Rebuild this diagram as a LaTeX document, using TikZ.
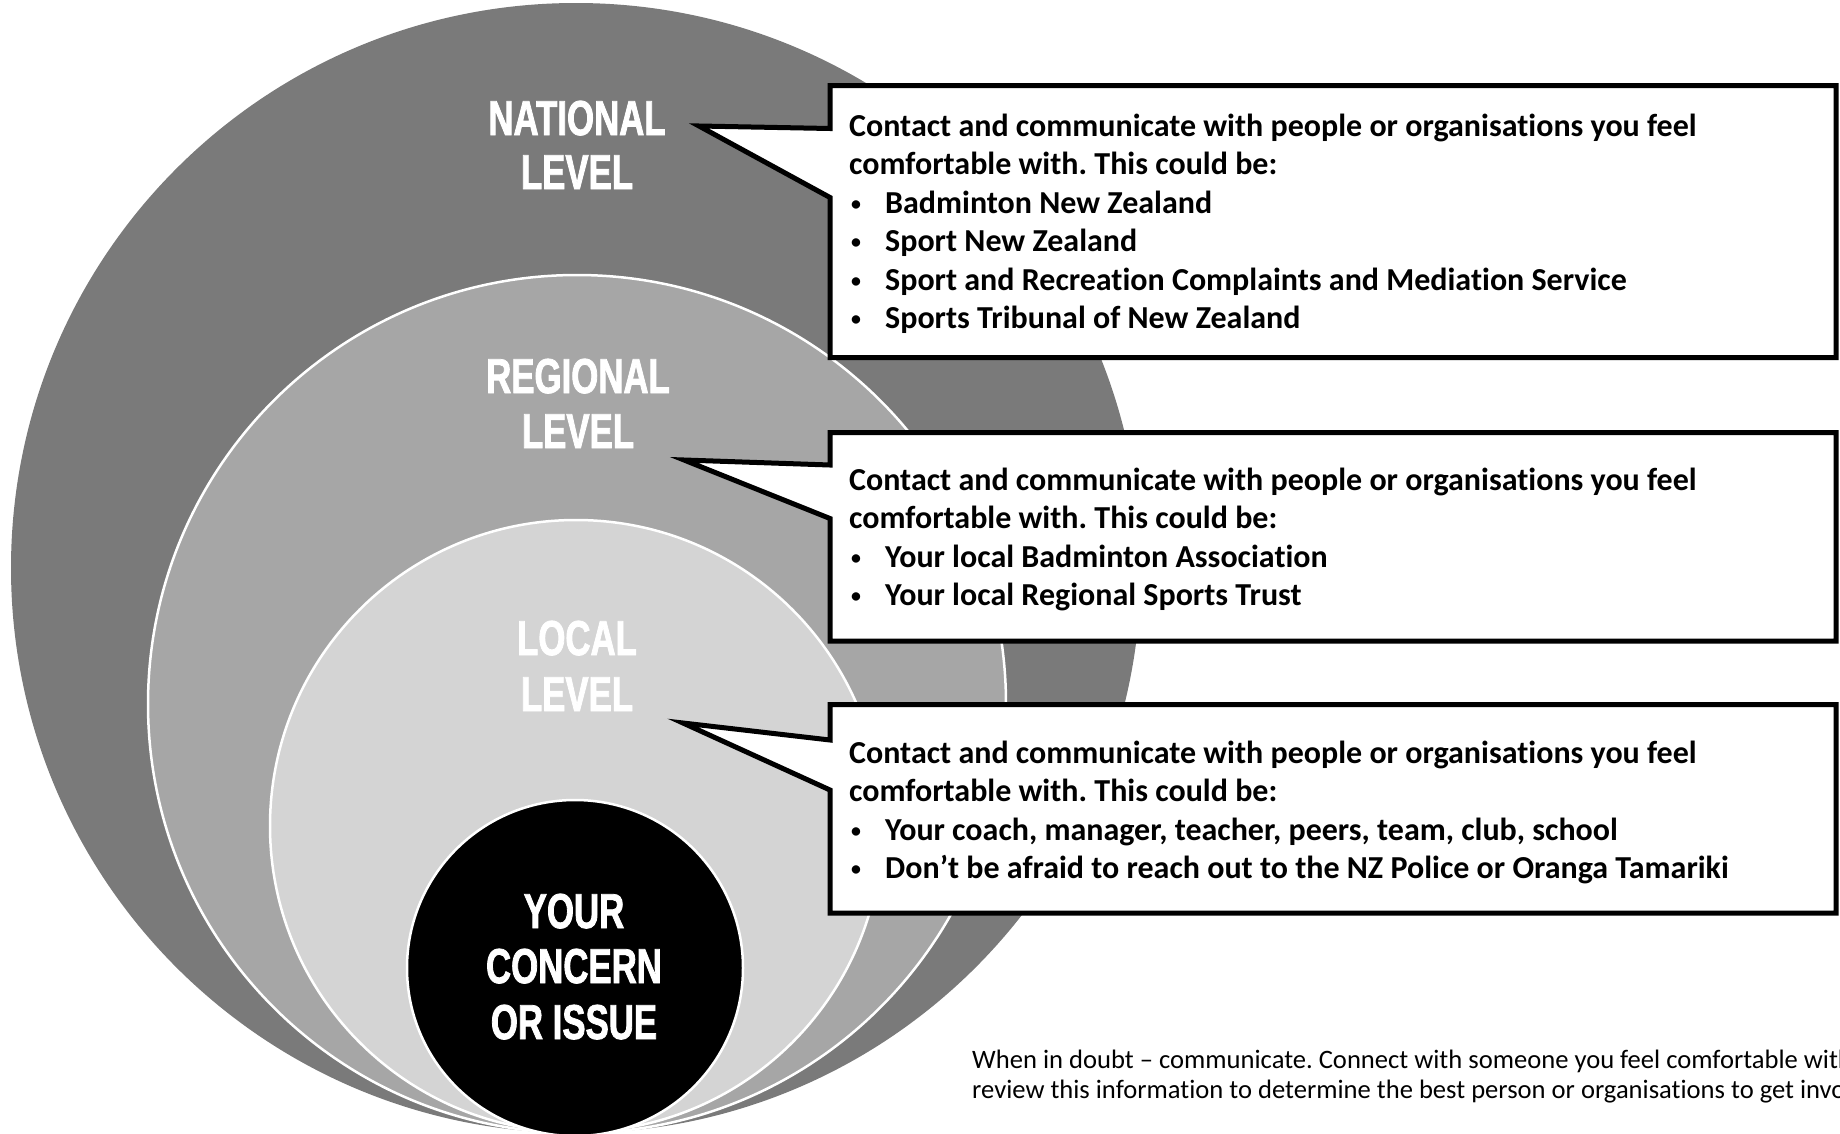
\documentclass[tikz,border=0pt]{standalone}
\usepackage{fontspec}
\setmainfont{Carlito}[Ligatures=NoCommon]
\newfontfamily\lvlfont{Liberation Sans}[FakeStretch=0.71, FakeBold=1.6]
\definecolor{ringNational}{RGB}{122,122,122}
\definecolor{ringRegional}{RGB}{166,166,166}
\definecolor{ringLocal}{RGB}{212,212,212}
\newcommand{\listdot}{\raisebox{3pt}{\scalebox{0.62}{•}}}
\begin{document}
\frenchspacing
\begin{tikzpicture}[x=1pt,y=-1pt,
  ring/.style={circle, inner sep=0pt, outer sep=0pt},
  callout/.style={fill=white, draw=black, line width=5pt, miter limit=10},
  lvl/.style={anchor=base, inner sep=0pt, text=white,
    font=\lvlfont\bfseries\fontsize{49}{49}\selectfont},
  body/.style={anchor=base west, inner sep=0pt,
    font=\bfseries\fontsize{32}{32}\selectfont},
  note/.style={anchor=base west, inner sep=0pt,
    font=\fontsize{26.6}{26.6}\selectfont}]
\useasboundingbox (0,0) rectangle (1840,1133);
\begin{scope}
\clip (0,0) rectangle (1840,1133);

% nested levels, all touching at the bottom
\node[ring, fill=ringNational, minimum size=1130pt] (national) at (576,568) {};
\node[ring, fill=ringRegional, draw=white, line width=2.5pt, minimum size=858pt] (regional) at (577,704) {};
\node[ring, fill=ringLocal, draw=white, line width=2.5pt, minimum size=612pt] (local) at (576,826) {};
\node[ring, fill=black, draw=white, line width=2.5pt, minimum size=336pt] (concern) at (575,968) {};

% level titles
\node[lvl] (natA) at (577,135) {NATIONAL};
\node[lvl] (natB) at (577,189) {LEVEL};
\node[lvl] (regA) at (578,393) {REGIONAL};
\node[lvl] (regB) at (578,448) {LEVEL};
\node[lvl] (locA) at (577,655) {LOCAL};
\node[lvl] (locB) at (577,711) {LEVEL};
\node[lvl] (conA) at (574,928) {YOUR};
\node[lvl] (conB) at (574,983) {CONCERN};
\node[lvl] (conC) at (574,1039) {OR ISSUE};

% speech-bubble callouts
\coordinate (tipN) at (699,126);
\coordinate (tipR) at (684,460);
\coordinate (tipL) at (683,723);
\draw[callout] (830,85.5) -- (1836,85.5) -- (1836,357.5) -- (830,357.5)
  -- (830,197.5) -- (tipN) -- (830,128.5) -- cycle;
\draw[callout] (830,432.5) -- (1836,432.5) -- (1836,641) -- (830,641)
  -- (830,518.5) -- (tipR) -- (830,465) -- cycle;
\draw[callout] (830,704.5) -- (1836,704.5) -- (1836,913) -- (830,913)
  -- (830,790) -- (tipL) -- (830,740) -- cycle;

% national callout text
\node[body] (n1) at (849,136) {Contact and communicate with people or organisations you feel};
\node[body] (n2) at (849,174.5) {comfortable with. This could be:};
\node[body] (n3b) at (851,213) {\listdot};
\node[body] (n3) at (885,213) {Badminton New Zealand};
\node[body] (n4b) at (851,251.5) {\listdot};
\node[body] (n4) at (885,251.5) {Sport New Zealand};
\node[body] (n5b) at (851,290) {\listdot};
\node[body] (n5) at (885,290) {Sport and Recreation Complaints and Mediation Service};
\node[body] (n6b) at (851,328.5) {\listdot};
\node[body] (n6) at (885,328.5) {Sports Tribunal of New Zealand};

% regional callout text
\node[body] (r1) at (849,490) {Contact and communicate with people or organisations you feel};
\node[body] (r2) at (849,528.5) {comfortable with. This could be:};
\node[body] (r3b) at (851,567) {\listdot};
\node[body] (r3) at (885,567) {Your local Badminton Association};
\node[body] (r4b) at (851,605.5) {\listdot};
\node[body] (r4) at (885,605.5) {Your local Regional Sports Trust};

% local callout text
\node[body] (l1) at (849,763) {Contact and communicate with people or organisations you feel};
\node[body] (l2) at (849,801.5) {comfortable with. This could be:};
\node[body] (l3b) at (851,840) {\listdot};
\node[body] (l3) at (885,840) {Your coach, manager, teacher, peers, team, club, school};
\node[body] (l4b) at (851,878.5) {\listdot};
\node[body] (l4) at (885,878.5) {Don’t be afraid to reach out to the NZ Police or Oranga Tamariki};

% footnote, running off the right edge
\node[note] (f1) at (972,1068) {When in doubt – communicate. Connect with someone you feel comfortable with};
\node[note] (f2) at (972,1098) {review this information to determine the best person or organisations to get involved.};
\end{scope}
\end{tikzpicture}
\end{document}
